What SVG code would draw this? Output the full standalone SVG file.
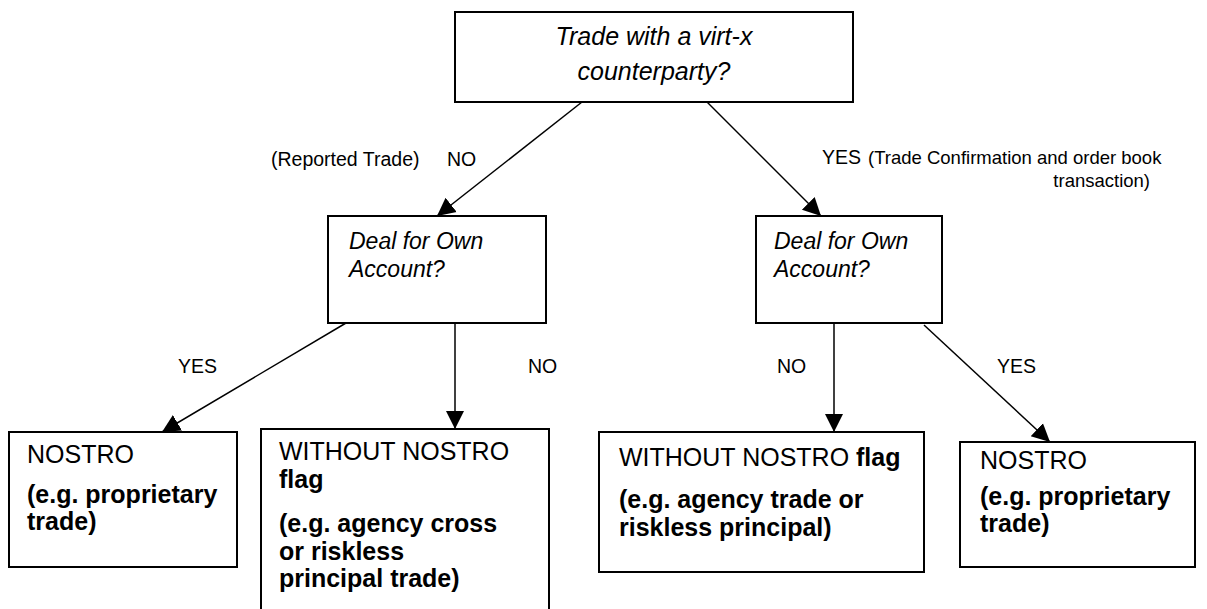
<svg xmlns="http://www.w3.org/2000/svg" width="1207" height="609" viewBox="0 0 1207 609">
<defs>
<style>
.box{fill:#fff;stroke:#000;stroke-width:2}
.t{font-family:"Liberation Sans",Arial,sans-serif;font-size:25px;fill:#000}
.d{font-size:23px}
.i{font-style:italic}
.b{font-weight:bold}
.lbl{font-family:"Liberation Sans",Arial,sans-serif;font-size:19.5px;fill:#000}
.c{fill:none;stroke:#000;stroke-width:1.5}
</style>
<marker id="ah" markerUnits="userSpaceOnUse" markerWidth="20" markerHeight="20" viewBox="0 0 20 20" refX="18" refY="10" orient="auto">
<path d="M0,1 L18,10 L0,19 Z" fill="#000"/>
</marker>
</defs>
<rect width="1207" height="609" fill="#fff"/>
<g id="connectors">
<line class="c" x1="582" y1="102" x2="437" y2="216" marker-end="url(#ah)"/>
<line class="c" x1="707" y1="102" x2="821" y2="216" marker-end="url(#ah)"/>
<line class="c" x1="346" y1="323" x2="162" y2="432" marker-end="url(#ah)"/>
<line class="c" x1="455" y1="323" x2="455" y2="429" marker-end="url(#ah)"/>
<line class="c" x1="834" y1="323" x2="834" y2="432" marker-end="url(#ah)"/>
<line class="c" x1="924" y1="325" x2="1050" y2="442" marker-end="url(#ah)"/>
</g>
<g id="labels">
<text class="lbl" x="271" y="166">(Reported Trade)</text>
<text class="lbl" x="447" y="166">NO</text>
<text class="lbl" x="822" y="164">YES</text>
<text class="lbl" x="868" y="164" style="font-size:18.5px">(Trade Confirmation and order book</text>
<text class="lbl" x="1150" y="187" text-anchor="end" style="font-size:18.5px">transaction)</text>
<text class="lbl" x="178" y="373">YES</text>
<text class="lbl" x="528" y="373">NO</text>
<text class="lbl" x="777" y="373">NO</text>
<text class="lbl" x="997" y="373">YES</text>
</g>
<g id="n-top">
<rect class="box" x="455" y="12" width="398" height="90"/>
<text class="t i" x="654" y="45" text-anchor="middle">Trade with a virt-x</text>
<text class="t i" x="654" y="80" text-anchor="middle">counterparty?</text>
</g>
<g id="n-deal-left">
<rect class="box" x="328" y="216" width="218" height="107"/>
<text class="t d i" x="349" y="249">Deal for Own</text>
<text class="t d i" x="349" y="277">Account?</text>
</g>
<g id="n-deal-right">
<rect class="box" x="756" y="216" width="186" height="107"/>
<text class="t d i" x="774" y="249">Deal for Own</text>
<text class="t d i" x="774" y="277">Account?</text>
</g>
<g id="n-nostro-left">
<rect class="box" x="9" y="432" width="228" height="135"/>
<text class="t" x="27" y="463">NOSTRO</text>
<text class="t b" x="27" y="503">(e.g. proprietary</text>
<text class="t b" x="27" y="530">trade)</text>
</g>
<g id="n-without-left">
<rect class="box" x="261" y="429" width="288" height="190"/>
<text class="t" x="279" y="460">WITHOUT NOSTRO</text>
<text class="t b" x="279" y="488">flag</text>
<text class="t b" x="279" y="532">(e.g. agency cross</text>
<text class="t b" x="279" y="560">or riskless</text>
<text class="t b" x="279" y="587">principal trade)</text>
</g>
<g id="n-without-right">
<rect class="box" x="599" y="432" width="325" height="140"/>
<text class="t" x="619" y="466">WITHOUT NOSTRO <tspan class="b">flag</tspan></text>
<text class="t b" x="619" y="508">(e.g. agency trade or</text>
<text class="t b" x="619" y="536">riskless principal)</text>
</g>
<g id="n-nostro-right">
<rect class="box" x="960" y="442" width="235" height="125"/>
<text class="t" x="980" y="469">NOSTRO</text>
<text class="t b" x="980" y="505">(e.g. proprietary</text>
<text class="t b" x="980" y="532">trade)</text>
</g>
</svg>
